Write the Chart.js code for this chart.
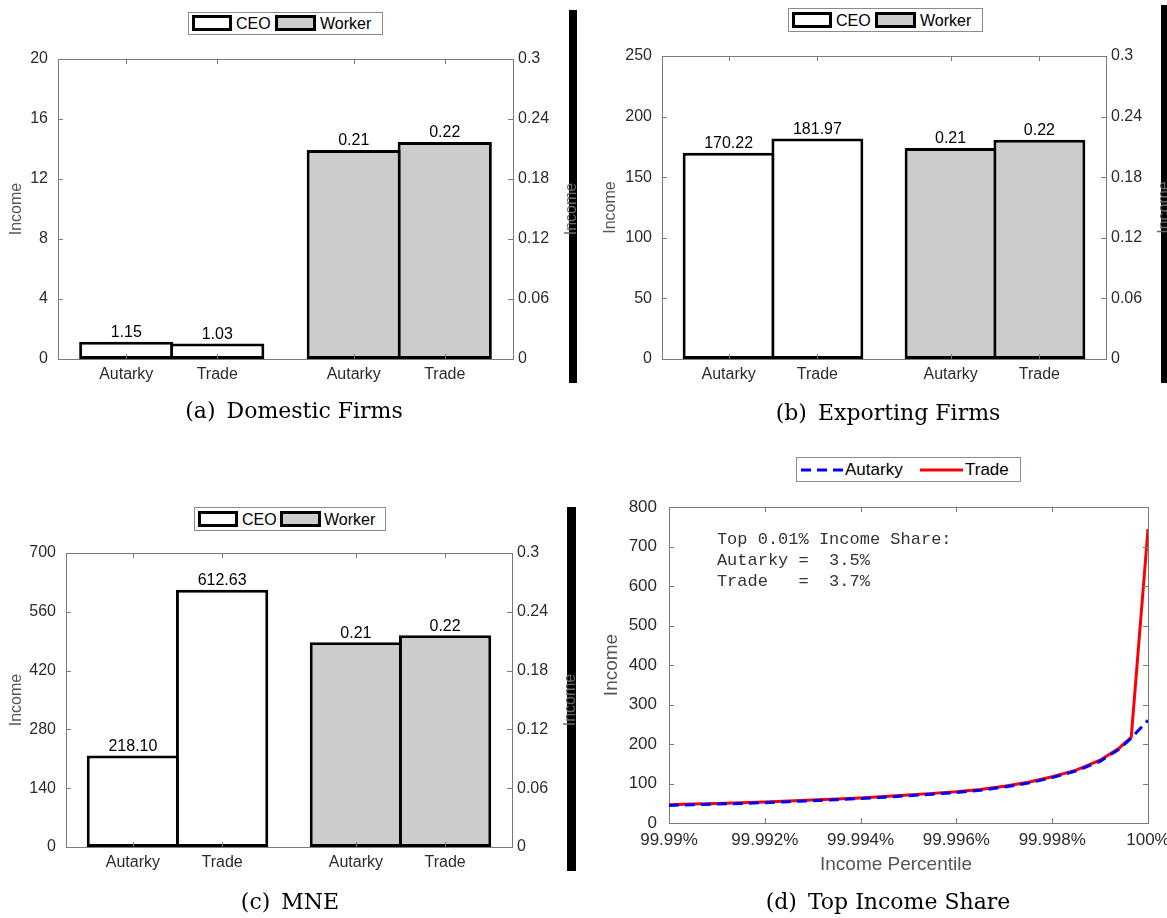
<!DOCTYPE html>
<html>
<head>
<meta charset="utf-8">
<script src="https://cdn.jsdelivr.net/npm/chart.js@4.4.1/dist/chart.umd.min.js"></script>
<style>
  body { margin: 0; width: 1167px; height: 918px; background: #fff; position: relative; overflow: hidden;
         font-family: "Liberation Sans", Arial, sans-serif; }
  canvas, .legend, .cap { position: absolute; }
  .legend { box-sizing: border-box; border: 1px solid #8c8c8c; background: #fff; font-size: 16px; color: #000; line-height: 19px; }
  .legend span, .legend svg { position: absolute; }
  .sw { box-sizing: border-box; border: 3px solid #000; }
  .cap { width: 400px; text-align: center; font-family: "DejaVu Serif", serif; font-size: 22px; line-height: 28px; color: #000; }
  .cap b { font-weight: normal; margin-right: 11px; }
</style>
</head>
<body>

<canvas id="domestic" width="583" height="400" style="left:0;top:0"></canvas>
<canvas id="exporting" width="584" height="400" style="left:583px;top:0"></canvas>
<canvas id="mne" width="583" height="400" style="left:0;top:490px"></canvas>
<canvas id="share" width="584" height="440" style="left:583px;top:440px"></canvas>

<!-- legends -->
<div class="legend" style="left:188px;top:12px;width:195px;height:23px">
  <span class="sw" style="left:3px;top:2px;width:40px;height:16px;background:#fff"></span>
  <span style="left:47px;top:1px">CEO</span>
  <span class="sw" style="left:86px;top:2px;width:41px;height:16px;background:#ccc"></span>
  <span style="left:131px;top:1px">Worker</span>
</div>
<div class="legend" style="left:788px;top:8px;width:195px;height:24px">
  <span class="sw" style="left:3px;top:3px;width:40px;height:16px;background:#fff"></span>
  <span style="left:47px;top:2px">CEO</span>
  <span class="sw" style="left:86px;top:3px;width:41px;height:16px;background:#ccc"></span>
  <span style="left:131px;top:2px">Worker</span>
</div>
<div class="legend" style="left:194px;top:507px;width:192px;height:24px">
  <span class="sw" style="left:3px;top:3px;width:40px;height:16px;background:#fff"></span>
  <span style="left:47px;top:2px">CEO</span>
  <span class="sw" style="left:85px;top:3px;width:41px;height:16px;background:#ccc"></span>
  <span style="left:129px;top:2px">Worker</span>
</div>
<div class="legend" style="left:796px;top:457px;width:225px;height:25px;font-size:17px">
  <svg style="left:3px;top:0" width="45" height="23"><line x1="1" y1="12" x2="45" y2="12" stroke="#0000ff" stroke-width="3" stroke-dasharray="10 6"/></svg>
  <span style="left:48px;top:2px">Autarky</span>
  <svg style="left:123px;top:0" width="45" height="23"><line x1="0" y1="12" x2="43" y2="12" stroke="#ff0000" stroke-width="3"/></svg>
  <span style="left:168px;top:2px">Trade</span>
</div>

<!-- captions -->
<div class="cap" style="left:94px;top:397px"><b>(a)</b>Domestic Firms</div>
<div class="cap" style="left:688px;top:399px"><b>(b)</b>Exporting Firms</div>
<div class="cap" style="left:90px;top:888px"><b>(c)</b>MNE</div>
<div class="cap" style="left:688px;top:888px"><b>(d)</b>Top Income Share</div>

<script>
// bar panels: categories and values
const barLabels = ['Autarky', 'Trade', 'Autarky', 'Trade'];
const barTickX = [0.8, 1.2, 1.8, 2.2];
const ceoX = [0.8, 1.2];
const workerX = [1.8, 2.2];

const domesticCeo = [1.15, 1.03];
const domesticWorker = [0.209, 0.217];
const exportingCeo = [170.22, 181.97];
const exportingWorker = [0.209, 0.217];
const mneCeo = [218.10, 612.63];
const mneWorker = [0.209, 0.216];

const domesticTicks = [0, 4, 8, 12, 16, 20];
const exportingTicks = [0, 50, 100, 150, 200, 250];
const mneTicks = [0, 140, 280, 420, 560, 700];
const workerTicks = [0, 0.06, 0.12, 0.18, 0.24, 0.3];

// top income share panel
const pctX = [99.99, 99.9905, 99.991, 99.9915, 99.992, 99.9925, 99.993, 99.9935, 99.994, 99.9945, 99.995,
              99.9955, 99.996, 99.9965, 99.997, 99.9975, 99.998, 99.9985, 99.999, 99.9994, 99.99965, 100];
const autarkyIncome = [44.5, 46.5, 48, 49.5, 51.5, 54, 56.5, 59, 62, 65.5, 69,
                       73, 77, 83, 91, 101, 115, 132, 156, 187, 215, 260];
const tradeIncome = [46, 48, 49.5, 51, 53, 55.5, 58, 60.5, 63.5, 67, 71,
                     75, 79, 85, 93, 103, 117, 134, 159, 190, 217, 744];
const pctTicks = [99.99, 99.992, 99.994, 99.996, 99.998, 100];
const pctTickLabels = ['99.99%', '99.992%', '99.994%', '99.996%', '99.998%', '100%'];
const incomeTicks = [0, 100, 200, 300, 400, 500, 600, 700, 800];
const noteLines = ['Top 0.01% Income Share:', 'Autarky =  3.5%', 'Trade   =  3.7%'];

Chart.defaults.font.family = '"Liberation Sans", Arial, sans-serif';
const axisColor = '#7a7a7a';
const tickColor = '#2b2b2b';
const titleColor = '#555';

function fixed(ticks) {
  return s => { s.ticks = ticks.map(v => ({ value: v })); };
}

// matlab-like box, inward ticks, value labels, titles and the black strip
const frame = {
  id: 'frame',
  beforeDatasetsDraw(chart) {
    const { ctx, chartArea: a } = chart;
    ctx.save();
    ctx.strokeStyle = axisColor;
    ctx.lineWidth = 1;
    ctx.strokeRect(a.left + 0.5, a.top + 0.5, a.right - a.left, a.bottom - a.top);
    ctx.restore();
  },
  afterDatasetsDraw(chart, args, opts) {
    const { ctx, chartArea: a, scales } = chart;
    const tl = 5;
    ctx.save();
    ctx.strokeStyle = axisColor;
    ctx.lineWidth = 1;
    ctx.beginPath();
    scales.x.ticks.forEach(t => {
      const p = Math.round(scales.x.getPixelForValue(t.value)) + 0.5;
      ctx.moveTo(p, a.bottom); ctx.lineTo(p, a.bottom - tl);
      ctx.moveTo(p, a.top); ctx.lineTo(p, a.top + tl);
    });
    scales.y.ticks.forEach(t => {
      const p = Math.round(scales.y.getPixelForValue(t.value)) + 0.5;
      ctx.moveTo(a.left, p); ctx.lineTo(a.left + tl, p);
      if (!scales.y1) { ctx.moveTo(a.right, p); ctx.lineTo(a.right - tl, p); }
    });
    if (scales.y1) {
      scales.y1.ticks.forEach(t => {
        const p = Math.round(scales.y1.getPixelForValue(t.value)) + 0.5;
        ctx.moveTo(a.right, p); ctx.lineTo(a.right - tl, p);
      });
    }
    ctx.stroke();

    if (opts.valueLabels) {
      ctx.fillStyle = '#000';
      ctx.font = '16px "Liberation Sans", Arial, sans-serif';
      ctx.textAlign = 'center';
      ctx.textBaseline = 'bottom';
      chart.data.datasets.forEach((ds, di) => {
        chart.getDatasetMeta(di).data.forEach((el, i) => {
          ctx.fillText(ds.data[i].y.toFixed(2), el.x, el.y - 1);
        });
      });
    }
    ctx.restore();
  },
  afterDraw(chart, args, opts) {
    const { ctx, chartArea: a, scales } = chart;
    ctx.save();
    if (opts.strip) {
      ctx.fillStyle = '#000';
      ctx.fillRect(...opts.strip);
    }
    (opts.titles || []).forEach(t => {
      ctx.save();
      ctx.translate(t.x, t.y !== undefined ? t.y : (a.top + a.bottom) / 2);
      if (t.rot) ctx.rotate(-Math.PI / 2);
      ctx.font = t.font;
      ctx.fillStyle = t.color;
      ctx.textAlign = 'center';
      ctx.textBaseline = 'middle';
      ctx.fillText(t.text, 0, 0);
      ctx.restore();
    });
    if (opts.note) {
      const n = opts.note;
      ctx.font = '17px "Liberation Mono", "Courier New", monospace';
      ctx.fillStyle = '#333';
      ctx.textAlign = 'left';
      ctx.textBaseline = 'middle';
      const x0 = scales.x.getPixelForValue(n.x);
      const y0 = scales.y.getPixelForValue(n.y);
      n.lines.forEach((line, i) => ctx.fillText(line, x0, y0 + i * 21));
    }
    ctx.restore();
  }
};
Chart.register(frame);

function barPanel(id, ceo, worker, leftTicks, g) {
  const canvas = document.getElementById(id);
  const W = canvas.width, H = canvas.height;
  const tickFont = { size: 16 };
  const barStyle = { borderColor: '#000', borderWidth: 3, borderSkipped: false, grouped: false,
                     barPercentage: 1.035, categoryPercentage: 1 };
  return new Chart(canvas, {
    type: 'bar',
    data: {
      datasets: [
        Object.assign({ label: 'CEO', data: ceoX.map((x, i) => ({ x, y: ceo[i] })),
                        backgroundColor: '#ffffff', yAxisID: 'y' }, barStyle),
        Object.assign({ label: 'Worker', data: workerX.map((x, i) => ({ x, y: worker[i] })),
                        backgroundColor: '#cccccc', yAxisID: 'y1' }, barStyle)
      ]
    },
    options: {
      responsive: false,
      animation: false,
      layout: { padding: { top: g.top, left: 0, right: 0, bottom: 0 } },
      plugins: {
        legend: { display: false },
        tooltip: { enabled: false },
        frame: {
          valueLabels: true,
          strip: g.strip,
          titles: [
            { text: 'Income', x: g.leftTitleX, rot: true, font: '16px "Liberation Sans", Arial, sans-serif', color: titleColor },
            { text: 'Income', x: g.rightTitleX, rot: true, font: '16px "Liberation Sans", Arial, sans-serif', color: '#6a6a6a' }
          ]
        }
      },
      scales: {
        x: {
          type: 'linear', min: 0.5, max: 2.5, offset: false,
          grid: { display: false, drawTicks: false }, border: { display: false },
          afterBuildTicks: fixed(barTickX),
          ticks: { autoSkip: false, maxRotation: 0, padding: 6, font: tickFont, color: tickColor,
                   callback: (v, i) => barLabels[i] },
          afterFit: s => { s.height = H - g.bottom; s.paddingLeft = 0; s.paddingRight = 0; }
        },
        y: {
          min: 0, max: leftTicks[leftTicks.length - 1],
          grid: { display: false, drawTicks: false }, border: { display: false },
          afterBuildTicks: fixed(leftTicks),
          ticks: { padding: 10, font: tickFont, color: tickColor, callback: v => String(v) },
          afterFit: s => { s.width = g.left; s.paddingTop = 0; s.paddingBottom = 0; }
        },
        y1: {
          position: 'right', min: 0, max: 0.3,
          grid: { display: false, drawTicks: false }, border: { display: false },
          afterBuildTicks: fixed(workerTicks),
          ticks: { padding: 5, font: tickFont, color: tickColor, callback: v => String(v) },
          afterFit: s => { s.width = W - g.right; s.paddingTop = 0; s.paddingBottom = 0; }
        }
      }
    }
  });
}

barPanel('domestic', domesticCeo, domesticWorker, domesticTicks,
  { left: 58, right: 513, top: 59, bottom: 359, leftTitleX: 17, rightTitleX: 572, strip: [569, 10, 8, 373] });
barPanel('exporting', exportingCeo, exportingWorker, exportingTicks,
  { left: 79, right: 523, top: 56, bottom: 359, leftTitleX: 28, rightTitleX: 582, strip: [578, 5, 6, 378] });
barPanel('mne', mneCeo, mneWorker, mneTicks,
  { left: 66, right: 512, top: 63, bottom: 357, leftTitleX: 17, rightTitleX: 571, strip: [567, 17, 9, 364] });

// (d) top income share
(function () {
  const canvas = document.getElementById('share');
  const H = canvas.height;
  new Chart(canvas, {
    type: 'line',
    data: {
      datasets: [
        { label: 'Autarky', data: pctX.map((x, i) => ({ x, y: autarkyIncome[i] })),
          borderColor: '#0000ff', borderWidth: 3, borderDash: [10, 6], pointRadius: 0, tension: 0, fill: false },
        { label: 'Trade', data: pctX.map((x, i) => ({ x, y: tradeIncome[i] })),
          borderColor: '#ff0000', borderWidth: 3, pointRadius: 0, tension: 0, fill: false }
      ]
    },
    options: {
      responsive: false,
      animation: false,
      layout: { padding: { top: 67, left: 0, right: 19, bottom: 0 } },
      plugins: {
        legend: { display: false },
        tooltip: { enabled: false },
        frame: {
          titles: [
            { text: 'Income', x: 29, rot: true, font: '19px "Liberation Sans", Arial, sans-serif', color: titleColor },
            { text: 'Income Percentile', x: 313, y: 425, font: '19px "Liberation Sans", Arial, sans-serif', color: titleColor }
          ],
          note: { x: 99.991, y: 718, lines: noteLines }
        }
      },
      scales: {
        x: {
          type: 'linear', min: 99.99, max: 100,
          grid: { display: false, drawTicks: false }, border: { display: false },
          afterBuildTicks: fixed(pctTicks),
          ticks: { autoSkip: false, maxRotation: 0, padding: 7, font: { size: 17 }, color: tickColor,
                   callback: (v, i) => pctTickLabels[i] },
          afterFit: s => { s.height = H - 383; s.paddingLeft = 0; s.paddingRight = 0; }
        },
        y: {
          min: 0, max: 800,
          grid: { display: false, drawTicks: false }, border: { display: false },
          afterBuildTicks: fixed(incomeTicks),
          ticks: { padding: 12, font: { size: 17 }, color: tickColor, callback: v => String(v) },
          afterFit: s => { s.width = 86; s.paddingTop = 0; s.paddingBottom = 0; }
        }
      }
    }
  });
})();
</script>
</body>
</html>
